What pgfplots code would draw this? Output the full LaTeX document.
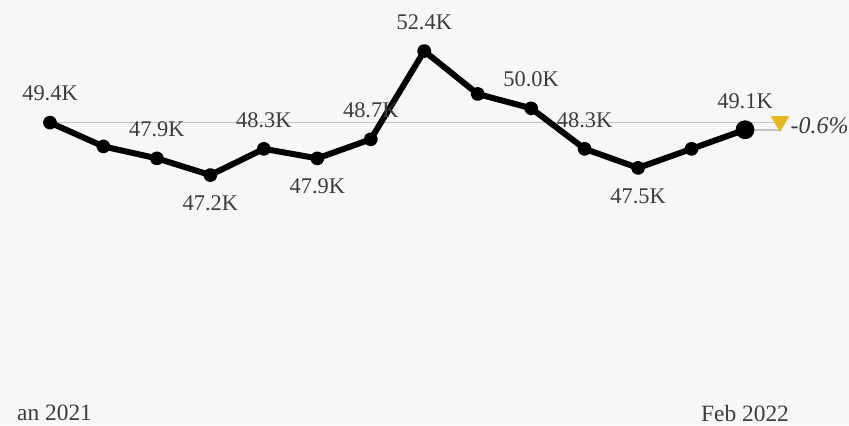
\documentclass[border=0pt]{standalone}
\usepackage{pgfplots}
\pgfplotsset{compat=1.18}
\usepackage{pgfplotstable}
\usepackage{fontspec}
\setmainfont{Liberation Serif}

\definecolor{bg}{HTML}{F7F7F7}
\definecolor{refgrey}{HTML}{C4C4C4}
\definecolor{labgrey}{HTML}{3C3C3C}
\definecolor{gold}{HTML}{E6B91E}

\tikzset{labelfont/.style={font=\fontsize{11.2}{13}\selectfont, text=labgrey}}

% monthly values, Jan 2021 .. Feb 2022 (thousands)
\pgfplotstableread{
x y
0 49.4
1 48.4
2 47.9
3 47.2
4 48.3
5 47.9
6 48.7
7 52.4
8 50.6
9 50.0
10 48.3
11 47.5
12 48.3
13 49.1
}\series

\pgfplotstableread{
x y label
0 49.4 49.4K
2 47.9 47.9K
4 48.3 48.3K
6 48.7 48.7K
7 52.4 52.4K
9 50.0 50.0K
10 48.3 48.3K
13 49.1 49.1K
}\above

\pgfplotstableread{
x y label
3 47.2 47.2K
5 47.9 47.9K
11 47.5 47.5K
}\below

\begin{document}
\begin{tikzpicture}
\begin{axis}[
    scale only axis,
    width=424.5pt,
    height=212.5pt,
    xmin=-0.935, xmax=14.945,
    ymin=36.72, ymax=54.54,
    hide axis,
    clip=false,
]
\fill[bg] (rel axis cs:0,0) rectangle (rel axis cs:1,1);

% reference line at the first value
\addplot[refgrey, line width=0.8pt] coordinates {(0,49.4) (13.655,49.4)};
\addplot[refgrey, line width=0.8pt] coordinates {(13,49.1) (13.655,49.1)};

\addplot[black, line width=3pt, mark=*, mark size=2pt, line join=round] table {\series};
\addplot[black, only marks, mark=*, mark size=4.5pt] coordinates {(13,49.1)};

\addplot[gold, only marks, mark=triangle*, mark size=5pt,
    mark options={rotate=180, fill=gold, draw=gold}] coordinates {(13.655,49.45)};

\addplot[draw=none, mark=none, nodes near coords, point meta=explicit symbolic,
    every node near coord/.style={anchor=center, yshift=14.5pt, labelfont}]
    table[meta=label] {\above};
\addplot[draw=none, mark=none, nodes near coords, point meta=explicit symbolic,
    every node near coord/.style={anchor=center, yshift=-14pt, labelfont}]
    table[meta=label] {\below};

\node[anchor=west, font=\fontsize{12}{14}\selectfont\itshape, text=labgrey]
    at (axis cs:13.72,49.25) {-0.6\%};

\begin{scope}
\clip (axis cs:-0.617,36) rectangle (axis cs:2,39);
\node[font=\fontsize{11.7}{14}\selectfont, text=labgrey] at (axis cs:0,37.22) {Jan 2021};
\end{scope}
\node[font=\fontsize{11.7}{14}\selectfont, text=labgrey] at (axis cs:13,37.22) {Feb 2022};
\end{axis}
\pgfresetboundingbox
\path[use as bounding box] (current axis.south west) rectangle (current axis.north east);
\end{tikzpicture}
\end{document}
